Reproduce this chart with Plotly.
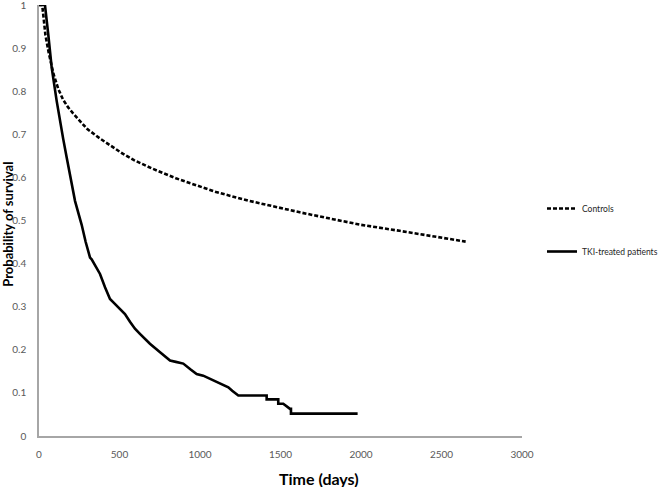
import plotly.graph_objects as go

# Controls (dashed curve)
controls_days = [0, 20, 40, 60, 90, 120, 150, 180, 213, 260, 300, 380, 450, 520,
                 590, 700, 850, 1000, 1100, 1300, 1450, 1620, 1800, 2000, 2240,
                 2450, 2650]
controls_surv = [1.0, 1.0, 0.93, 0.89, 0.84, 0.805, 0.78, 0.763, 0.748, 0.728,
                 0.712, 0.69, 0.672, 0.655, 0.64, 0.621, 0.598, 0.578, 0.566,
                 0.546, 0.533, 0.519, 0.505, 0.49, 0.476, 0.463, 0.451]

# TKI-treated patients (solid curve)
tki_days = [0, 37, 58, 79, 110, 120, 150, 172, 200, 224, 255, 265, 290, 317, 327,
            350, 379, 410, 441, 462, 503, 534, 565, 596, 627, 660, 689, 750, 814,
            850, 886, 896, 940, 979, 1020, 1062, 1100, 1140, 1176, 1200, 1238,
            1414, 1414, 1486, 1486, 1517, 1540, 1559, 1565, 1565, 1979]
tki_surv = [1.0, 1.0, 0.93, 0.854, 0.777, 0.754, 0.69, 0.646, 0.59, 0.545, 0.503,
            0.49, 0.45, 0.414, 0.41, 0.395, 0.376, 0.345, 0.318, 0.31, 0.295,
            0.283, 0.265, 0.249, 0.237, 0.225, 0.214, 0.195, 0.175, 0.172, 0.168,
            0.168, 0.155, 0.144, 0.14, 0.133, 0.125, 0.12, 0.113, 0.105, 0.094,
            0.094, 0.085, 0.085, 0.075, 0.075, 0.068, 0.063, 0.063, 0.052, 0.052]

x_ticks = [0, 500, 1000, 1500, 2000, 2500, 3000]
y_ticks = [0, 0.1, 0.2, 0.3, 0.4, 0.5, 0.6, 0.7, 0.8, 0.9, 1]
y_tick_text = ["0", "0.1", "0.2", "0.3", "0.4", "0.5", "0.6", "0.7", "0.8", "0.9", "1"]

FONT = "Lato, 'Open Sans', sans-serif"

fig = go.Figure()

fig.add_trace(go.Scatter(
    x=controls_days, y=controls_surv, mode="lines", name="Controls",
    line=dict(color="black", width=2.6, dash="4px,2px"),
    cliponaxis=False, legendgroup="c",
))
fig.add_trace(go.Scatter(
    x=tki_days, y=tki_surv, mode="lines", name="TKI-treated patients",
    line=dict(color="black", width=2.6),
    cliponaxis=False, legendgroup="t",
))

axis_common = dict(
    showgrid=False, zeroline=False, showline=True, linecolor="#a6a6a6",
    linewidth=1.5, ticks="", automargin=False, ticklabeloverflow="allow",
    tickfont=dict(family=FONT, size=10, color="#595959"),
)

fig.update_layout(
    width=658, height=487,
    margin=dict(l=39, r=136, t=5, b=51),
    plot_bgcolor="white", paper_bgcolor="white",
    font=dict(family=FONT, color="black"),
    xaxis=dict(range=[0, 3000], tickvals=x_ticks, ticklabelstandoff=8, **axis_common),
    yaxis=dict(range=[0, 1], tickvals=y_ticks, ticktext=y_tick_text,
               ticklabelstandoff=9, **axis_common),
    legend=dict(xref="container", yref="container", x=542 / 658, y=1 - 194 / 487,
                xanchor="left", yanchor="top",
                font=dict(family=FONT, size=8.5, color="#262626"),
                bgcolor="rgba(0,0,0,0)", itemwidth=30, tracegroupgap=24),
    annotations=[
        dict(text="<b>Time (days)</b>", xref="paper", yref="paper",
             x=(319 - 39) / 483, y=-(478 - 436) / 431, xanchor="center",
             yanchor="middle", showarrow=False,
             font=dict(family=FONT, size=16, color="black")),
        dict(text="<b>Probability of survival</b>", xref="paper", yref="paper",
             x=-(39 - 8) / 483, y=0.49, xanchor="center", yanchor="middle",
             textangle=-90, showarrow=False,
             font=dict(family=FONT, size=13, color="black")),
    ],
)

# page has a default 8px body margin; drop it so the figure sits at the corner
fig.write_html("out.html", config={"displayModeBar": False},
               post_script="document.body.style.margin='0';")
